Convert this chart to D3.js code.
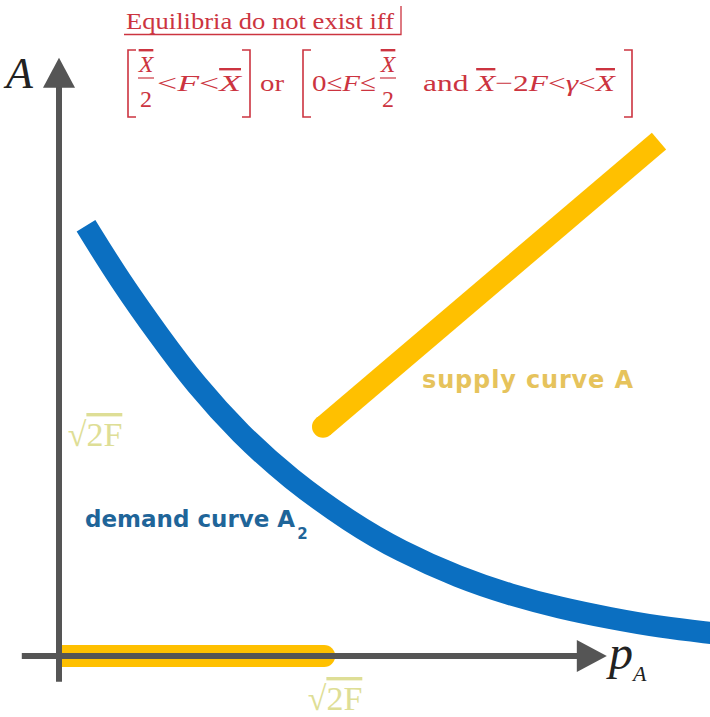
<!DOCTYPE html>
<html>
<head>
<meta charset="utf-8">
<script src="https://cdn.jsdelivr.net/npm/d3@7"></script>
<style>
  body { margin: 0; background: #fff; }
  svg { display: block; }
</style>
</head>
<body>
<div id="chart"></div>
<script>
// Values (units: 1 unit = 60 px on both axes)

// demand curve A2 : price p_A -> quantity A
const demandP = [0.45, 1.02, 1.68, 2.27, 3.02, 3.85, 4.87, 5.68, 6.68, 7.52, 8.35, 9.18, 10.02, 10.9];
const demandA = [7.17, 6.25, 5.32, 4.53, 3.70, 2.95, 2.22, 1.75, 1.30, 1.02, 0.80, 0.63, 0.48, 0.38];

// supply curve A : zero below sqrt(2F), then rising
const supplyLowP = [0, 4.42];
const supplyLowA = [0, 0];
const supplyHighP = [4.4, 10.0];
const supplyHighA = [3.82, 8.58];

// where the sqrt(2F) marks sit on each axis
const sqrt2F_onP = 4.6;
const sqrt2F_onA = 3.8;

// axis extents (start below / left of the origin, arrow tips at the end)
const pAxisExtent = [-0.62, 9.13];
const aAxisExtent = [-0.43, 9.97];

// texts
const titleText = "Equilibria do not exist iff";
const demandLabel = ["demand curve A", "2"];
const supplyLabel = "supply curve  A";

const width = 710, height = 717;

const svg = d3.select("div#chart")
    .append("svg")
    .attr("width", width)
    .attr("height", height)
    .style("background-color", "#fff");

const g = svg.append("g");

const x = d3.scaleLinear().domain([0, 10]).range([59, 659]);
const y = d3.scaleLinear().domain([0, 10]).range([656, 56]);

const line = d3.line()
    .x(d => x(d[0]))
    .y(d => y(d[1]));

const blue = "#0b6fc1", gold = "#ffc000", axisGrey = "#555555", red = "#cc3440";

// 1. curves

// demand curve (smoothed through the read points)
g.append("path")
    .datum(d3.zip(demandP, demandA))
    .attr("d", line.curve(d3.curveBasis))
    .attr("fill", "none")
    .attr("stroke", blue)
    .attr("stroke-width", 22);

line.curve(d3.curveLinear);

// supply, zero part along the p axis
g.append("path")
    .datum(d3.zip(supplyLowP, supplyLowA))
    .attr("d", line)
    .attr("stroke", gold)
    .attr("stroke-width", 22);
g.append("circle")
    .attr("cx", x(supplyLowP[1]))
    .attr("cy", y(supplyLowA[1]))
    .attr("r", 11)
    .attr("fill", gold);

// supply, rising part
g.append("path")
    .datum(d3.zip(supplyHighP, supplyHighA))
    .attr("d", line)
    .attr("stroke", gold)
    .attr("stroke-width", 22);
g.append("circle")
    .attr("cx", x(supplyHighP[0]))
    .attr("cy", y(supplyHighA[0]))
    .attr("r", 11)
    .attr("fill", gold);

// 2. axes with arrow heads
const head = 30, headHalf = 16;

g.append("line")
    .attr("x1", x(pAxisExtent[0])).attr("y1", y(0))
    .attr("x2", x(pAxisExtent[1]) - head + 2).attr("y2", y(0))
    .attr("stroke", axisGrey).attr("stroke-width", 6);
g.append("path")
    .attr("d", "M" + x(pAxisExtent[1]) + "," + y(0)
        + "L" + (x(pAxisExtent[1]) - head) + "," + (y(0) - headHalf)
        + "L" + (x(pAxisExtent[1]) - head) + "," + (y(0) + headHalf) + "Z")
    .attr("fill", axisGrey);

g.append("line")
    .attr("x1", x(0)).attr("y1", y(aAxisExtent[0]))
    .attr("x2", x(0)).attr("y2", y(aAxisExtent[1]) + head - 2)
    .attr("stroke", axisGrey).attr("stroke-width", 6);
g.append("path")
    .attr("d", "M" + x(0) + "," + y(aAxisExtent[1])
        + "L" + (x(0) - headHalf) + "," + (y(aAxisExtent[1]) + head)
        + "L" + (x(0) + headHalf) + "," + (y(aAxisExtent[1]) + head) + "Z")
    .attr("fill", axisGrey);

// axis names
g.append("text")
    .attr("x", 6).attr("y", 88)
    .style("font-family", "'Liberation Serif', serif")
    .style("font-style", "italic")
    .style("font-size", "44px")
    .attr("fill", "#222")
    .text("A");

const pLab = g.append("text")
    .attr("x", 609).attr("y", 669)
    .style("font-family", "'Liberation Serif', serif")
    .style("font-style", "italic")
    .attr("fill", "#222");
pLab.append("tspan").style("font-size", "48px").text("p");
pLab.append("tspan").attr("dy", 12).style("font-size", "22px").text("A");

// sqrt(2F) marks
function rootLabel(cx, baseline) {
    const t = g.append("text")
        .attr("x", cx).attr("y", baseline)
        .attr("text-anchor", "middle")
        .style("font-family", "'Liberation Serif', serif")
        .style("font-size", "34px")
        .attr("fill", "#dede96");
    t.append("tspan").text("\u221A");
    t.append("tspan").style("text-decoration", "overline").text("2F");
}
rootLabel(x(sqrt2F_onP), 710);
rootLabel(95, y(sqrt2F_onA) + 18);

// 3. curve labels
const sans = "'DejaVu Sans', Verdana, sans-serif";

g.append("text")
    .attr("x", 422).attr("y", 388)
    .style("font-family", sans)
    .style("font-weight", "bold")
    .style("font-size", "24px")
    .attr("textLength", 211)
    .attr("fill", "#e6c35c")
    .text(supplyLabel);

const dLab = g.append("text")
    .attr("x", 85).attr("y", 527)
    .style("font-family", sans)
    .style("font-weight", "bold")
    .style("font-size", "23px")
    .attr("fill", "#1f6599");
dLab.append("tspan").text(demandLabel[0]);
dLab.append("tspan").attr("dx", 2).attr("dy", 12).style("font-size", "15px").text(demandLabel[1]);

// 4. the red condition at the top
const serif = "'Liberation Serif', 'DejaVu Serif', serif";
const cond = g.append("g")
    .style("font-family", serif)
    .attr("fill", red);

cond.append("text")
    .attr("x", 126).attr("y", 29)
    .style("font-size", "24px")
    .attr("textLength", 268)
    .attr("lengthAdjust", "spacingAndGlyphs")
    .text(titleText);
cond.append("path")
    .attr("d", "M124,34.5H401V6")
    .attr("fill", "none")
    .attr("stroke", red)
    .attr("stroke-width", 1.3);

// brackets
function bracket(xv, dir) {
    cond.append("path")
        .attr("d", "M" + (xv + dir * 8) + ",50H" + xv + "V117H" + (xv + dir * 8))
        .attr("fill", "none")
        .attr("stroke", red)
        .attr("stroke-width", 1.6);
}
bracket(128, 1);
bracket(250, -1);
bracket(303, 1);
bracket(632, -1);

// fractions X-bar over 2
function fraction(cx) {
    cond.append("text")
        .attr("x", cx).attr("y", 72)
        .attr("text-anchor", "middle")
        .style("font-size", "24px")
        .style("font-style", "italic")
        .style("text-decoration", "overline")
        .text("X");
    cond.append("line")
        .attr("x1", cx - 8).attr("x2", cx + 8)
        .attr("y1", 78).attr("y2", 78)
        .attr("stroke", red).attr("stroke-width", 1.2);
    cond.append("text")
        .attr("x", cx).attr("y", 107)
        .attr("text-anchor", "middle")
        .style("font-size", "24px")
        .text("2");
}
fraction(146);
fraction(388);

function inline(x0, len, parts) {
    const t = cond.append("text")
        .attr("x", x0).attr("y", 91)
        .style("font-size", "24px")
        .attr("textLength", len)
        .attr("lengthAdjust", "spacingAndGlyphs");
    parts.forEach(p => {
        const s = t.append("tspan").text(p[0]);
        if (p[1] === "i") s.style("font-style", "italic");
        if (p[1] === "ib") s.style("font-style", "italic").style("text-decoration", "overline");
    });
}
inline(157, 84, [["<", ""], ["F", "i"], ["<", ""], ["X", "ib"]]);
inline(260, 24, [["or", ""]]);
inline(312, 64, [["0\u2264", ""], ["F", "i"], ["\u2264", ""]]);
inline(423, 192, [["and ", ""], ["X", "ib"], ["\u22122", ""], ["F", "i"], ["<", ""], ["\u03B3", "i"], ["<", ""], ["X", "ib"]]);
</script>
</body>
</html>
